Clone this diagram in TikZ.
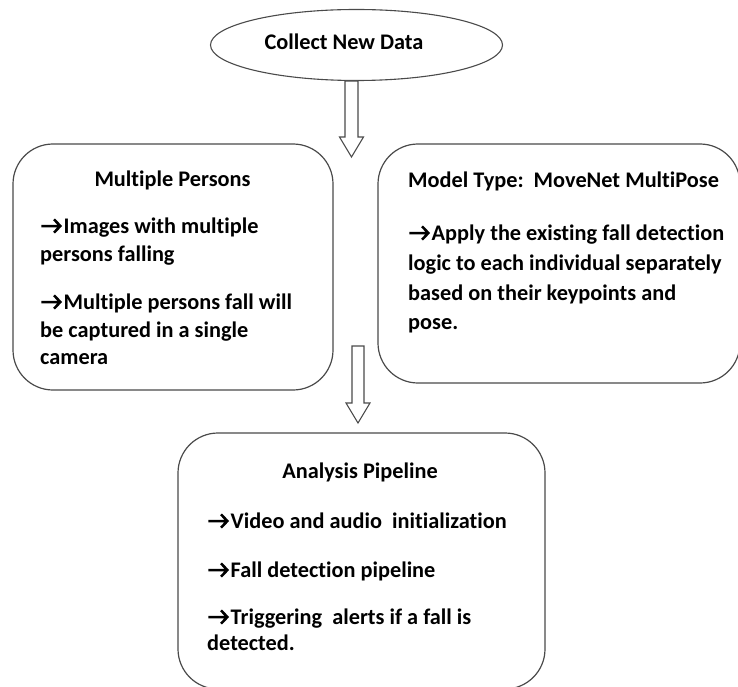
\documentclass[tikz,border=0pt]{standalone}
\usepackage{fontspec}
\setmainfont{Carlito}[Ligatures=NoCommon]
\usetikzlibrary{shapes.geometric}
\definecolor{edge}{HTML}{4A4A4A}
% bullet arrow drawn in front of each item
\newcommand{\itemarrow}{\tikz[baseline=0pt,x=1pt,y=1pt]\draw[line width=2.5pt, line cap=butt, line join=miter]
  (0,7) -- (18.5,7) (12.5,13.6) -- (19,7) -- (12.5,0.4);\hspace{2pt}}
\tikzset{
  box/.style={draw=edge, line width=1.2pt, fill=white, rounded corners=40pt, inner sep=0pt},
  txt/.style={anchor=base west, inner sep=0pt, font=\fontsize{22.3}{27}\selectfont\bfseries},
  ttl/.style={anchor=base, inner sep=0pt, font=\fontsize{22.3}{27}\selectfont\bfseries},
  arrowline/.style={draw=edge, line width=1.1pt, fill=white, line join=miter},
  pics/blockarrow/.style args={#1/#2/#3}{code={
    \draw[arrowline] (-#2,0) -- (-#2,{#1-20}) -- (-#3,{#1-20}) -- (0,#1)
      -- (#3,{#1-20}) -- (#2,{#1-20}) -- (#2,0) -- cycle;}}
}
\begin{document}
\begin{tikzpicture}[x=1pt,y=-1pt]
\useasboundingbox (0,0) rectangle (738,687);

% start node
\node[draw=edge, line width=1.1pt, ellipse, minimum width=292pt, minimum height=71pt,
      inner sep=0pt] (collect) at (356.5,45) {};
\node[ttl] (collectlbl) at (344,50) {Collect New Data};

% the two parallel boxes
\node[box, minimum width=320pt, minimum height=246pt] (persons) at (173,267) {};
\node[box, minimum width=362pt, minimum height=239pt] (model) at (559,263.5) {};

% final box
\node[box, minimum width=367pt, minimum height=256pt] (pipeline) at (361.5,561) {};

% hollow block arrows
\coordinate (a1) at (351.5,81);
\pic at (a1) {blockarrow={76/6.5/12}};
\coordinate (a2) at (358,346);
\pic at (a2) {blockarrow={77/6/12}};

% Multiple Persons
\node[ttl] (pt) at (172.5,186) {Multiple Persons};
\node[txt] (p1) at (40,233) {\itemarrow Images with multiple};
\node[txt] (p2) at (40,261) {persons falling};
\node[txt] (p3) at (40,309) {\itemarrow Multiple persons fall will};
\node[txt] (p4) at (40,337) {be captured in a single};
\node[txt] (p5) at (40,364) {camera};

% Model type
\node[txt] (mt) at (408,187) {Model Type:\ \ MoveNet MultiPose};
\node[txt] (m1) at (408,240) {\itemarrow Apply the existing fall detection};
\node[txt] (m2) at (408,270) {logic to each individual separately};
\node[txt] (m3) at (408,300) {based on their keypoints and};
\node[txt] (m4) at (408,329) {pose.};

% Analysis pipeline
\node[ttl] (at) at (360,478) {Analysis Pipeline};
\node[txt] (b1) at (207,528) {\itemarrow Video and audio\ \ initialization};
\node[txt] (b2) at (207,577) {\itemarrow Fall detection pipeline};
\node[txt] (b3) at (207,624) {\itemarrow Triggering\ \ alerts if a fall is};
\node[txt] (b4) at (207,650) {detected.};
\end{tikzpicture}
\end{document}
